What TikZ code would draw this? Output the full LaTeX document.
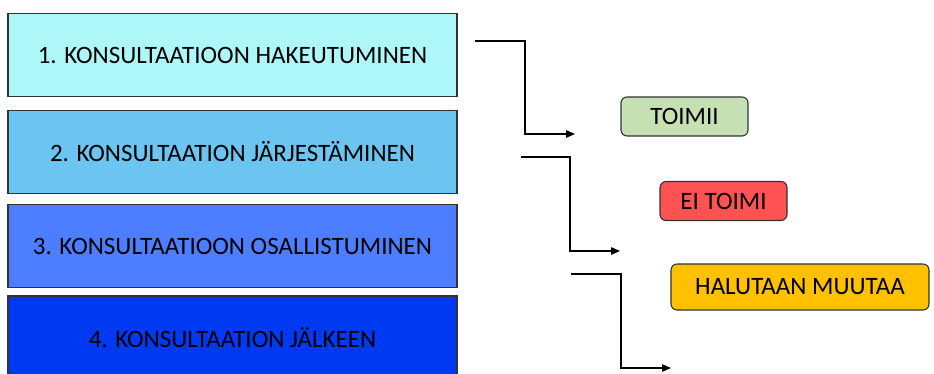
\documentclass[tikz,border=0pt]{standalone}
\usepackage{fontspec}
\setmainfont{Carlito}
\usetikzlibrary{arrows.meta}
\definecolor{stageA}{HTML}{ADF7F9}
\definecolor{stageB}{HTML}{6CC4F0}
\definecolor{stageC}{HTML}{4D7EFF}
\definecolor{stageD}{HTML}{0039F2}
\definecolor{okgreen}{HTML}{C5E0B3}
\definecolor{badred}{HTML}{FF5252}
\definecolor{changeamber}{HTML}{FFC000}
\definecolor{edgegray}{HTML}{333333}
\tikzset{
  stagebox/.style={draw=edgegray, line width=1.1pt, minimum width=449pt,
    minimum height=83pt, inner sep=0pt, font=\fontsize{25}{28}\selectfont},
  statusbox/.style={draw=edgegray, line width=1.1pt, rounded corners=6pt,
    inner sep=0pt, font=\fontsize{25}{28}\selectfont},
  conn/.style={draw=black, line width=1.3pt,
    -{Triangle[length=9pt,width=7.5pt]}},
}
\begin{document}
\begin{tikzpicture}[x=1pt,y=-1pt]
\useasboundingbox (0,0) rectangle (934,374);
% process stages
\node[stagebox, fill=stageA] (s1) at (232.5,55) {1. KONSULTAATIOON HAKEUTUMINEN};
\node[stagebox, fill=stageB] (s2) at (232.5,152) {2. KONSULTAATION JÄRJESTÄMINEN};
\node[stagebox, fill=stageC] (s3) at (232.5,246) {3. KONSULTAATIOON OSALLISTUMINEN};
\node[stagebox, fill=stageD] (s4) at (232.5,337.5) {4. KONSULTAATION JÄLKEEN};
% status labels
\node[statusbox, fill=okgreen, minimum width=127pt, minimum height=39pt] (ok) at (684.5,116.5) {TOIMII};
\node[statusbox, fill=badred, minimum width=127pt, minimum height=39pt] (bad) at (723.5,201) {EI TOIMI};
\node[statusbox, fill=changeamber, minimum width=258pt, minimum height=46pt] (chg) at (800,287) {HALUTAAN MUUTAA};
% elbow connectors
\coordinate (c1s) at (475,41);  \coordinate (c1k) at (525,134); \coordinate (c1e) at (575,134);
\coordinate (c2s) at (521,157); \coordinate (c2k) at (570,251); \coordinate (c2e) at (620,251);
\coordinate (c3s) at (571,274); \coordinate (c3k) at (621,368); \coordinate (c3e) at (671,368);
\draw[conn] (c1s) -| (c1k) -- (c1e);
\draw[conn] (c2s) -| (c2k) -- (c2e);
\draw[conn] (c3s) -| (c3k) -- (c3e);
\end{tikzpicture}
\end{document}
